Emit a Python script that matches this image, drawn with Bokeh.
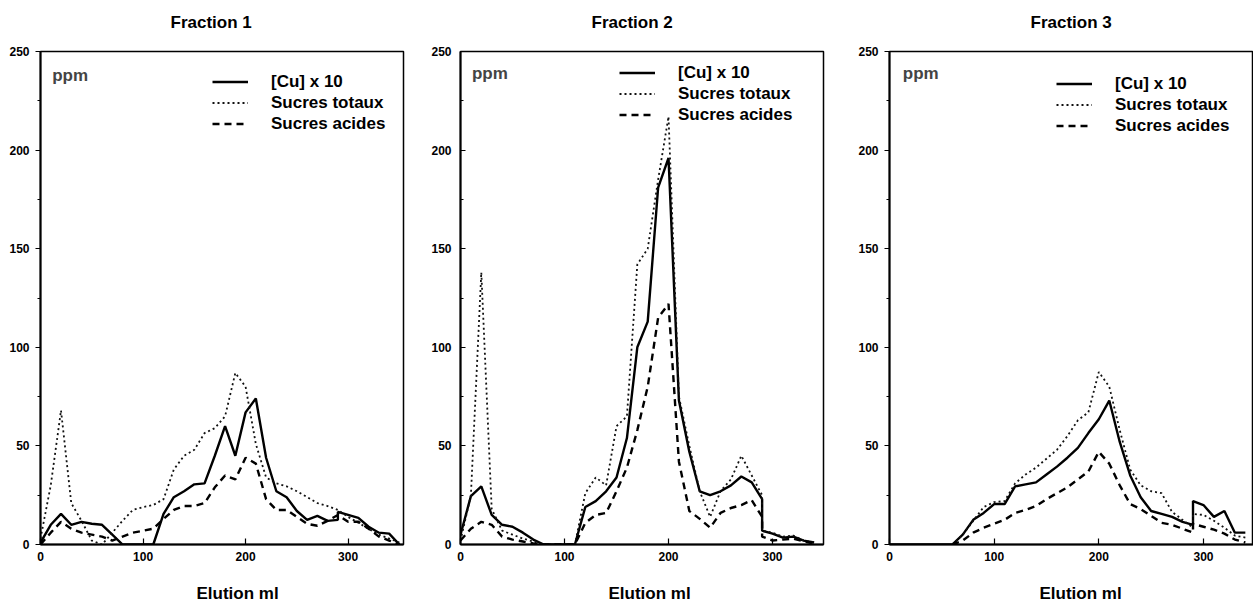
from bokeh.plotting import figure
from bokeh.layouts import row
from bokeh.models import Range1d, FixedTicker, Legend, LegendItem, Label, Title, LinearAxis
from bokeh.embed import file_html
from bokeh.resources import INLINE

# ---------------- data (ppm vs elution volume, ml) ----------------
titles = ["Fraction 1", "Fraction 2", "Fraction 3"]
series_labels = ["[Cu] x 10", "Sucres totaux", "Sucres acides"]
x_label = "Elution ml"
y_unit = "ppm"
x_ticks = [0, 100, 200, 300]
y_ticks = [0, 50, 100, 150, 200, 250]
y_minor = [25, 75, 125, 175, 225]

# Fraction 1
cu1_x = [0, 10, 20, 30, 40, 50, 60, 70, 80, 110, 120, 130, 140, 150, 160, 170, 180, 190, 200,
         210, 220, 230, 240, 250, 260, 270, 280, 290, 290, 300, 310, 320, 330, 340, 350]
cu1_y = [1, 10, 15.5, 10, 11.5, 10.5, 10, 5, 0, 0, 15.5, 24, 27, 30.5, 31, 45, 60, 45, 67,
         74, 44, 27, 24, 17, 12.5, 14.5, 12, 12.5, 16.5, 15, 13.5, 9, 6, 5.5, 0]
tot1_x = [0, 10, 20, 30, 40, 50, 60, 70, 80, 90, 100, 110, 120, 130, 140, 150, 160, 170, 180,
          190, 200, 210, 220, 230, 240, 250, 260, 270, 280, 290, 300, 310, 320, 330, 340, 350]
tot1_y = [3, 30, 68, 21, 12, 2, 0, 6, 12, 17.5, 19, 20, 23, 38, 45, 48, 56.5, 59, 65,
          87, 80, 51, 34, 31, 29.5, 27, 24, 21, 19.5, 17.5, 14, 11, 8, 5, 3, 1]
aci1_x = [0, 10, 20, 30, 40, 50, 60, 70, 80, 90, 100, 110, 120, 130, 140, 150, 160, 170, 180,
          190, 200, 210, 220, 230, 240, 250, 260, 270, 280, 290, 300, 310, 320, 330, 340, 350]
aci1_y = [0, 6, 11.5, 8, 6, 5, 4, 2, 4, 6, 7, 8, 13, 17.5, 19.5, 19.5, 21, 29, 35,
          33, 44, 41, 23, 17.5, 17.5, 14, 10.5, 9.5, 12, 15, 11.5, 11.5, 8, 4, 2, 0]

# Fraction 2
cu2_x = [0, 10, 20, 30, 40, 50, 60, 70, 80, 110, 120, 130, 140, 150, 160, 170, 180, 190, 200,
         210, 220, 230, 240, 250, 260, 270, 280, 290, 290, 300, 310, 320, 330, 340]
cu2_y = [5, 24.5, 29.5, 15, 10, 9, 6, 2.5, 0, 0, 19, 22, 27, 34, 54, 100, 113, 181, 196,
         73, 47, 27, 25, 27, 30, 34.5, 31.5, 23, 7, 5.5, 3.5, 4, 2, 1]
tot2_x = [0, 10, 20, 30, 40, 50, 60, 70, 80, 110, 120, 130, 140, 150, 160, 170, 180, 190, 200,
          210, 220, 230, 240, 250, 260, 270, 280, 290, 290, 300, 310, 320, 330, 340]
tot2_y = [2, 25, 138, 18, 7, 5, 3, 1.5, 0, 0, 26, 34, 30, 60, 65, 142, 150, 185, 217,
          75, 50, 27, 14, 27, 33, 45, 35, 25, 7, 6, 4, 4.5, 2, 1]
aci2_x = [0, 10, 20, 30, 40, 50, 60, 70, 80, 110, 120, 130, 140, 150, 160, 170, 180, 190, 200,
          210, 220, 230, 240, 250, 260, 270, 280, 290, 290, 300, 310, 320, 330, 340]
aci2_y = [2, 8, 11.5, 10, 4, 2.5, 1.5, 0.5, 0, 0, 11, 15, 16, 27, 39, 58, 80, 115, 122,
          42, 17, 13, 8.5, 16, 18.5, 20, 22.5, 14, 4, 2, 2.5, 3, 1.5, 0.5]

# Fraction 3
cu3_x = [0, 60, 70, 80, 90, 100, 110, 120, 130, 140, 150, 160, 170, 180, 190, 200, 210, 220,
         230, 240, 250, 260, 270, 280, 290, 290, 300, 310, 320, 330, 340]
cu3_y = [0, 0, 5, 12.5, 16, 20.5, 20.5, 29.5, 30.5, 31.5, 35.5, 39.5, 44, 49, 56.5, 63.5, 73, 52,
         35, 24, 17, 15.5, 14, 11.5, 10, 22, 20, 14, 17, 6, 6]
tot3_x = [60, 70, 80, 90, 100, 110, 120, 130, 140, 150, 160, 170, 180, 190, 200, 210, 220,
          230, 240, 250, 260, 270, 280, 290, 290, 300, 310, 320, 330, 340]
tot3_y = [0, 5, 12, 19, 21.5, 22, 31, 35.5, 39, 43.5, 48, 55, 63, 67, 87.5, 80, 58,
          38, 30, 27, 26, 16.5, 12.5, 8.5, 15.5, 15, 12, 8.5, 4.5, 3.5]
aci3_x = [60, 70, 80, 90, 100, 110, 120, 130, 140, 150, 160, 170, 180, 190, 200, 210, 220,
          230, 240, 250, 260, 270, 280, 290, 290, 300, 310, 320, 330, 340]
aci3_y = [0, 2, 6, 8.5, 10.5, 12.5, 16, 17.5, 19.5, 23, 26, 29, 33, 37, 47, 41, 30,
          20.5, 18, 14.5, 11, 10, 8, 6, 10.5, 9, 7.5, 5.5, 2.5, 1]

FONT = "Liberation Sans"


def spacer_axis(size):
    # an axis with one invisible tick and an empty label: it only reserves space
    t = 175
    return LinearAxis(ticker=FixedTicker(ticks=[t]), axis_line_color=None,
                      major_tick_in=0, major_tick_out=size, minor_tick_in=0, minor_tick_out=0,
                      major_tick_line_alpha=0, minor_tick_line_alpha=0,
                      major_label_overrides={t: ""}, major_label_standoff=0,
                      major_label_text_font_size="1px")


def panel(title, cu, tot, aci, cfg):
    p = figure(width=cfg["w"], height=610, output_backend="svg", toolbar_location=None,
               x_range=Range1d(0, cfg["xend"]), y_range=Range1d(0, 250),
               min_border_left=cfg["bl"], min_border_right=cfg["br"],
               min_border_top=cfg["bt"], min_border_bottom=cfg["bb"])
    p.background_fill_color = "white"
    p.border_fill_color = "white"
    p.outline_line_color = "black"
    p.outline_line_width = 1.5
    p.xgrid.visible = False
    p.ygrid.visible = False

    for ax in (p.xaxis[0], p.yaxis[0]):
        ax.axis_line_width = 2
        ax.axis_line_color = "black"
        ax.major_tick_line_color = "black"
        ax.minor_tick_line_color = "black"
        ax.major_tick_line_width = 1.2
        ax.major_label_text_font = FONT
        ax.major_label_text_font_style = "bold"
        ax.major_label_text_font_size = "12px"
        ax.major_label_text_color = "black"

    xa = p.xaxis[0]
    xa.ticker = FixedTicker(ticks=x_ticks)
    xa.major_tick_in = 6
    xa.major_tick_out = 0
    xa.minor_tick_in = 0
    xa.minor_tick_out = 0
    xa.major_label_standoff = 7

    ya = p.yaxis[0]
    ya.ticker = FixedTicker(ticks=y_ticks, minor_ticks=y_minor)
    if cfg["yin"]:
        ya.major_tick_in, ya.major_tick_out = 5, 0
        ya.minor_tick_in, ya.minor_tick_out = 3, 0
        ya.major_label_standoff = 9
    else:
        ya.major_tick_in, ya.major_tick_out = 0, 5
        ya.minor_tick_in, ya.minor_tick_out = 0, 3
        ya.major_label_standoff = 6

    r1 = p.line(cu[0], cu[1], line_color="black", line_width=2.4)
    r2 = p.line(tot[0], tot[1], line_color="#111111", line_width=1.8, line_dash="2 3")
    r3 = p.line(aci[0], aci[1], line_color="black", line_width=2.4, line_dash="7 5")

    leg = Legend(items=[LegendItem(label=series_labels[0], renderers=[r1]),
                        LegendItem(label=series_labels[1], renderers=[r2]),
                        LegendItem(label=series_labels[2], renderers=[r3])],
                 location=cfg["leg"], orientation="vertical",
                 glyph_width=36, glyph_height=21, label_height=21, spacing=0,
                 padding=0, margin=0, label_standoff=23,
                 border_line_color=None, background_fill_alpha=0,
                 label_text_font=FONT, label_text_font_style="bold",
                 label_text_font_size="17px", label_text_color="black")
    p.add_layout(leg)

    p.add_layout(Label(x=cfg["ppm"][0], y=cfg["ppm"][1], text=y_unit, text_font=FONT,
                       text_font_style="bold", text_font_size="17px",
                       text_baseline="middle", text_align="left"))

    # title above: spacer axis next to the frame, then the title
    p.add_layout(spacer_axis(19), "above")
    p.add_layout(Title(text=title, align="left", offset=cfg["toff"], standoff=2,
                       text_font=FONT, text_font_style="bold", text_font_size="17px",
                       text_color="black"), "above")
    # below: x axis, spacer axis, then the axis title
    p.add_layout(spacer_axis(17), "below")
    p.add_layout(Title(text=x_label, align="left", offset=cfg["eoff"], standoff=2,
                       text_font=FONT, text_font_style="bold", text_font_size="17px",
                       text_color="black"), "below")
    return p


cfg1 = dict(w=428, xend=354, bl=40, br=25, bt=48, bb=62, toff=130, yin=False,
            leg=(172, 410), ppm=(11.4, 238), eoff=156)
cfg2 = dict(w=420, xend=349, bl=32, br=25, bt=51, bb=65, toff=131, yin=True,
            leg=(159, 419), ppm=(11, 239), eoff=148)
cfg3 = dict(w=405, xend=347.8, bl=41, br=0, bt=49, bb=66, toff=141, yin=False,
            leg=(167, 408), ppm=(12.7, 239), eoff=150)

p1 = panel(titles[0], (cu1_x, cu1_y), (tot1_x, tot1_y), (aci1_x, aci1_y), cfg1)
p2 = panel(titles[1], (cu2_x, cu2_y), (tot2_x, tot2_y), (aci2_x, aci2_y), cfg2)
p3 = panel(titles[2], (cu3_x, cu3_y), (tot3_x, tot3_y), (aci3_x, aci3_y), cfg3)

layout = row(p1, p2, p3)
open("out.html", "w").write(file_html(layout, INLINE))
